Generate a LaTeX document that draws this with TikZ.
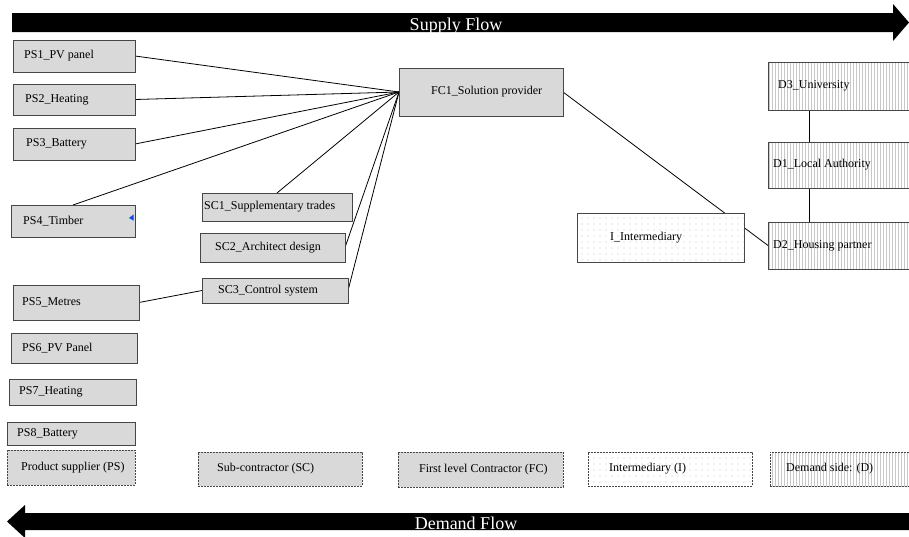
\documentclass[tikz,border=0pt]{standalone}
\usepackage{fontspec}
\setmainfont{Liberation Serif}
\usetikzlibrary{patterns,backgrounds,calc}
\pgfdeclarepatternformonly{vstripes}{\pgfqpoint{0pt}{-1pt}}{\pgfqpoint{3pt}{2pt}}{\pgfqpoint{3pt}{1pt}}{%
  \pgfsetlinewidth{0.7pt}\pgfpathmoveto{\pgfqpoint{1.5pt}{-1pt}}\pgfpathlineto{\pgfqpoint{1.5pt}{2pt}}\pgfusepath{stroke}}
\pgfdeclarepatternformonly{sdots}{\pgfqpoint{-1pt}{-1pt}}{\pgfqpoint{1pt}{1pt}}{\pgfqpoint{6pt}{6pt}}{%
  \pgfpathcircle{\pgfqpoint{0pt}{0pt}}{0.55pt}\pgfusepath{fill}}
\definecolor{boxgray}{RGB}{217,217,217}
\definecolor{edgegray}{RGB}{70,70,70}
\tikzset{
  basebox/.style={draw=edgegray, line width=1pt, inner sep=0pt, outer sep=0pt},
  graybox/.style={basebox, fill=boxgray},
  dotbox/.style={basebox, preaction={fill=white}, pattern=sdots, pattern color=black!25},
  stripebox/.style={basebox, preaction={fill=white}, pattern=vstripes, pattern color=black!22},
  legend/.style={dash pattern=on 2pt off 1pt},
  lbl/.style={anchor=west, inner sep=0pt, font=\fontsize{12}{14}\selectfont},
  conn/.style={draw=black, line width=0.8pt},
  flowtext/.style={text=white, inner sep=0pt, anchor=base, font=\fontsize{18}{20}\selectfont}
}
% name, x1, y1, x2, y2, pad, style, text
\newcommand\mybox[8]{%
  \node[#7, anchor=north west, minimum width={(#4-#2)*1pt}, minimum height={(#5-#3)*1pt}] (#1) at (#2,#3) {};
  \node[lbl] (#1t) at ([xshift=#6pt]#1.west) {#8};}
\begin{document}
\begin{tikzpicture}[x=1pt,y=-1pt]
\clip (0,0) rectangle (909,536);
% flows
\fill (12,13) -- (893,13) -- (893,4) -- (909,22.5) -- (893,41) -- (893,32) -- (12,32) -- cycle;
\node[flowtext] (supply) at (456,30) {Supply Flow};
\fill (909,513) -- (25,513) -- (25,505) -- (7,521.5) -- (25,538) -- (25,530) -- (909,530) -- cycle;
\node[flowtext] (demand) at (466,529) {Demand Flow};
% product suppliers
\mybox{PS1}{13}{40}{135}{72}{11}{graybox}{PS1\_PV panel}
\mybox{PS2}{13}{84}{135}{115}{12}{graybox}{PS2\_Heating}
\mybox{PS3}{13}{128}{135}{160}{13}{graybox}{PS3\_Battery}
\mybox{PS4}{11}{205}{135}{237}{12}{graybox}{PS4\_Timber}
\mybox{PS5}{13}{285}{139}{320}{9}{graybox}{PS5\_Metres}
\mybox{PS6}{11}{333}{137}{363}{11}{graybox}{PS6\_PV Panel}
\mybox{PS7}{9}{379}{136}{405}{10}{graybox}{PS7\_Heating}
\mybox{PS8}{7}{422}{135}{445}{10}{graybox}{PS8\_Battery}
\fill[blue!70!cyan] (129,218) -- (133.5,214.5) -- (133.5,220.5) -- cycle;
% sub-contractors
\mybox{SC1}{202}{193}{352}{221}{2}{graybox}{SC1\_Supplementary trades}
\mybox{SC2}{200}{233}{345}{262}{15}{graybox}{SC2\_Architect design}
\mybox{SC3}{202}{278}{348}{303}{16}{graybox}{SC3\_Control system}
% first level contractor
\mybox{FC1}{399}{68}{563}{116}{32}{graybox}{FC1\_Solution provider}
% intermediary
\mybox{I}{577}{213}{744}{262}{33}{dotbox}{I\_Intermediary}
% demand side
\mybox{D3}{768}{62}{911}{110}{10}{stripebox}{D3\_University}
\mybox{D1}{768}{142}{911}{188}{5}{stripebox}{D1\_Local Authority}
\mybox{D2}{768}{222}{911}{269}{5}{stripebox}{D2\_Housing partner}
% legend
\mybox{LPS}{7}{450}{135}{485}{14}{graybox,legend}{Product supplier (PS)}
\mybox{LSC}{198}{452}{362}{486}{19}{graybox,legend}{Sub-contractor (SC)}
\mybox{LFC}{398}{452}{563}{487}{21}{graybox,legend}{First level Contractor (FC)}
\mybox{LI}{588}{452}{752}{486}{21}{dotbox,legend}{Intermediary (I)}
\mybox{LD}{770}{452}{911}{486}{16}{stripebox,legend}{Demand side: (D)}
% connectors
\coordinate (vx) at (809,0);
\begin{pgfonlayer}{background}
\fill[white] (0,0) rectangle (909,536);
\draw[conn] (PS1.east) -- (FC1.west);
\draw[conn] (PS2.east) -- (FC1.west);
\draw[conn] (PS3.east) -- (FC1.west);
\draw[conn] (PS4.north) -- (FC1.west);
\draw[conn] (SC1.north) -- (FC1.west);
\draw[conn] (SC2.east) -- (FC1.west);
\draw[conn] (SC3.east) -- (FC1.west);
\draw[conn] (PS5.east) -- (SC3.west);
\draw[conn] (FC1.east) -- (D2.west);
\draw[conn] (D3.south -| vx) -- (D1.north -| vx);
\draw[conn] (D1.south -| vx) -- (D2.north -| vx);
\end{pgfonlayer}
\end{tikzpicture}
\end{document}
